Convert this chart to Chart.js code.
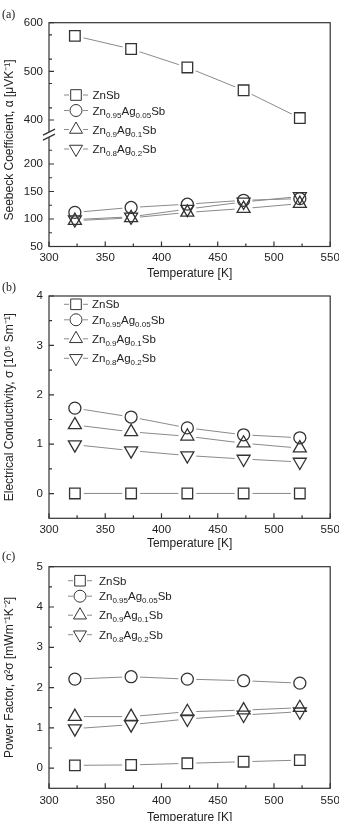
<!DOCTYPE html>
<html>
<head>
<meta charset="utf-8">
<script src="https://cdn.jsdelivr.net/npm/chart.js@4.4.1/dist/chart.umd.min.js"></script>
<style>
  html, body { margin: 0; padding: 0; background: #fff; }
  body { width: 339px; height: 821px; overflow: hidden; position: relative; }
  canvas { position: absolute; left: 0; }
  .tag { position: absolute; left: 2px; font: 12px 'Liberation Serif', 'Times New Roman', serif; color: #222; z-index: 2; }
</style>
</head>
<body>
<canvas id="chartA" width="339" height="281" style="top:0px"></canvas>
<canvas id="chartB" width="339" height="270" style="top:281px"></canvas>
<canvas id="chartC" width="339" height="290" style="top:551px"></canvas>
<div class="tag" style="top:7px">(a)</div>
<div class="tag" style="top:280px">(b)</div>
<div class="tag" style="top:549px">(c)</div>
<script>
// temperatures [K]
var temps = [323, 373, 423, 473, 523];
var seriesNames = ['ZnSb', 'Zn_{0.95}Ag_{0.05}Sb', 'Zn_{0.9}Ag_{0.1}Sb', 'Zn_{0.8}Ag_{0.2}Sb'];
var markers = ['rect', 'circle', 'triangle', 'triangle'];
var markerTurn = [0, 0, 0, 180];
var markerSize = [7.5, 6, 7.5, 7.5];

// (a) seebeck coefficient [uV/K]
var seebeckZnSb = [573, 546, 508, 461, 404];
var seebeckAg005 = [112, 121, 127, 134, 137];
var seebeckAg01 = [97, 102, 112, 119, 128];
var seebeckAg02 = [99, 104, 118, 131, 141];

// (b) electrical conductivity [10^5 S/m]
var condZnSb = [0.003, 0.003, 0.003, 0.003, 0.003];
var condAg005 = [1.73, 1.55, 1.33, 1.19, 1.13];
var condAg01 = [1.39, 1.25, 1.16, 1.02, 0.92];
var condAg02 = [0.99, 0.87, 0.77, 0.70, 0.64];

// (c) power factor [mW/mK^2]
var pfZnSb = [0.07, 0.08, 0.12, 0.16, 0.20];
var pfAg005 = [2.21, 2.27, 2.21, 2.17, 2.11];
var pfAg01 = [1.28, 1.28, 1.40, 1.44, 1.50];
var pfAg02 = [0.98, 1.08, 1.22, 1.32, 1.40];

// tick values
var tempTicks = [300, 350, 400, 450, 500, 550];
var tempMinor = [325, 375, 425, 475, 525];
var seebeckLowTicks = [50, 100, 150, 200];
var seebeckLowMinor = [75, 125, 175, 225];
var seebeckHighTicks = [400, 450, 500, 550, 600];
var seebeckHighMinor = [425, 475, 525, 575];
var condTicks = [0, 1, 2, 3, 4];
var condMinor = [0.5, 1.5, 2.5, 3.5];
var pfTicks = [0, 1, 2, 3, 4, 5];
var pfMinor = [0.5, 1.5, 2.5, 3.5, 4.5];

var family = "'Liberation Sans', Arial, Helvetica, sans-serif";
var textColor = '#222';
var axisColor = '#333';
var linkColor = '#8a8a8a';
var legendRows = [0, 15.5, 34.5, 54];

function setTicks(list) {
  return function(scale) {
    scale.ticks = list.map(function(v) { return {value: v}; });
  };
}

function buildDatasets(seriesList, axisIds) {
  var out = [];
  seriesList.forEach(function(vals, i) {
    var pts = temps.map(function(t, j) { return {x: t, y: vals[j]}; });
    out.push({
      label: seriesNames[i], data: pts, yAxisID: axisIds[i],
      borderColor: linkColor, borderWidth: 1, pointRadius: 0, pointHoverRadius: 0,
      fill: false, tension: 0, linkOf: i
    });
    out.push({
      label: seriesNames[i], data: pts, yAxisID: axisIds[i], showLine: false,
      pointStyle: markers[i], pointRotation: markerTurn[i], pointRadius: markerSize[i],
      pointBorderColor: axisColor, pointBackgroundColor: 'rgba(0,0,0,0)', pointBorderWidth: 1.3,
      markerOf: i
    });
  });
  return out;
}

function drawRich(ctx, label, x, y) {
  var parts = label.split(/(_\{[^}]*\})/);
  parts.forEach(function(part) {
    if (!part) return;
    var sub = part.charAt(0) === '_';
    var txt = sub ? part.slice(2, -1) : part;
    ctx.font = (sub ? '8px ' : '11.5px ') + family;
    ctx.fillText(txt, x, sub ? y + 3 : y);
    x += ctx.measureText(txt).width;
  });
}

function decoPlugin(p) {
  return {
    id: 'deco',
    beforeDatasetDraw: function(chart, args) {
      var ds = chart.data.datasets[args.index];
      if (typeof ds.linkOf !== 'number') return;
      var ctx = chart.ctx;
      ctx.save();
      chart.getDatasetMeta(args.index + 1).data.forEach(function(pt) {
        ctx.beginPath();
        ctx.rect(0, 0, chart.width, chart.height);
        ctx.arc(pt.x, pt.y, 9, 0, Math.PI * 2);
        ctx.clip('evenodd');
      });
    },
    afterDatasetDraw: function(chart, args) {
      var ds = chart.data.datasets[args.index];
      if (typeof ds.linkOf === 'number') chart.ctx.restore();
    },
    afterDraw: function(chart) {
      var ctx = chart.ctx, a = chart.chartArea;
      ctx.save();
      ctx.strokeStyle = axisColor;
      ctx.lineWidth = 1.2;
      ctx.strokeRect(a.left, a.top, a.right - a.left, a.bottom - a.top);

      // inward ticks
      ctx.beginPath();
      Object.keys(p.minor).forEach(function(id) {
        var s = chart.scales[id];
        s.ticks.forEach(function(t) {
          var v = s.getPixelForValue(t.value);
          if (s.isHorizontal()) { ctx.moveTo(v, a.bottom); ctx.lineTo(v, a.bottom - 5); }
          else { ctx.moveTo(a.left, v); ctx.lineTo(a.left + 5, v); }
        });
        p.minor[id].forEach(function(m) {
          var v = s.getPixelForValue(m);
          if (s.isHorizontal()) { ctx.moveTo(v, a.bottom); ctx.lineTo(v, a.bottom - 3); }
          else { ctx.moveTo(a.left, v); ctx.lineTo(a.left + 3, v); }
        });
      });
      ctx.stroke();

      // axis break
      if (p.breakAxis) {
        var by = chart.scales[p.breakAxis].top;
        ctx.fillStyle = '#fff';
        ctx.fillRect(a.left - 2, by - 2.5, 4, 5);
        ctx.beginPath();
        [-2.5, 2.5].forEach(function(d) {
          ctx.moveTo(a.left - 6, by + d + 3);
          ctx.lineTo(a.left + 6, by + d - 3);
        });
        ctx.stroke();
      }

      // y title drawn by hand for the broken axis
      if (p.yTitle) {
        ctx.save();
        ctx.translate(p.yTitle.x, p.yTitle.y);
        ctx.rotate(-Math.PI / 2);
        ctx.fillStyle = textColor;
        ctx.font = '12px ' + family;
        ctx.textAlign = 'center';
        ctx.textBaseline = 'middle';
        ctx.fillText(p.yTitle.text, 0, 0);
        ctx.restore();
      }

      // legend
      var lg = p.legend;
      seriesNames.forEach(function(name, i) {
        var ry = lg.y + legendRows[i];
        ctx.strokeStyle = linkColor;
        ctx.lineWidth = 1;
        ctx.beginPath();
        ctx.moveTo(lg.x - 12, ry); ctx.lineTo(lg.x - 7, ry);
        ctx.moveTo(lg.x + 7, ry); ctx.lineTo(lg.x + 12, ry);
        ctx.stroke();
        ctx.strokeStyle = axisColor;
        ctx.fillStyle = 'rgba(0,0,0,0)';
        Chart.helpers.drawPoint(ctx, {
          pointStyle: markers[i], rotation: markerTurn[i], radius: markerSize[i], borderWidth: 1.3
        }, lg.x, ry);
        ctx.fillStyle = textColor;
        ctx.textAlign = 'left';
        ctx.textBaseline = 'alphabetic';
        drawRich(ctx, name, lg.textX, ry + 4);
      });
      ctx.restore();
    }
  };
}

function xScale(p) {
  return {
    type: 'linear', position: 'bottom', min: 300, max: 550,
    afterBuildTicks: setTicks(tempTicks),
    afterFit: function(s) { s.height = p.xHeight; s.paddingLeft = 0; s.paddingRight = 0; },
    grid: {display: false, drawTicks: false}, border: {display: false},
    ticks: {padding: p.labelPad, color: textColor, font: {family: family, size: 11.5}, maxRotation: 0},
    title: {display: true, text: 'Temperature [K]', color: textColor,
            font: {family: family, size: 12}, padding: {top: 0, bottom: p.titlePad}}
  };
}

function yScale(extra) {
  var s = {
    type: 'linear', position: 'left',
    afterFit: function(sc) { sc.width = 49; },
    grid: {display: false, drawTicks: false}, border: {display: false},
    ticks: {padding: 6, color: textColor, font: {family: family, size: 11.5}}
  };
  Object.keys(extra).forEach(function(k) { s[k] = extra[k]; });
  return s;
}

function makeChart(id, datasets, scales, p) {
  return new Chart(document.getElementById(id), {
    type: 'line',
    data: {datasets: datasets},
    options: {
      responsive: false, animation: false, events: [],
      layout: {padding: {top: p.top, right: 8, left: 0, bottom: 0}},
      plugins: {legend: {display: false}, tooltip: {enabled: false}},
      scales: scales
    },
    plugins: [decoPlugin(p)]
  });
}

// (a)
var pa = {top: 22.7, xHeight: 34.5, labelPad: 4, titlePad: 0,
  minor: {x: tempMinor, y: seebeckLowMinor, yTop: seebeckHighMinor},
  breakAxis: 'y',
  yTitle: {x: 9.5, y: 140, text: 'Seebeck Coefficient, \u03b1 [\u03bcVK\u207b\u00b9]'},
  legend: {x: 76, y: 95, textX: 92.5}};
makeChart('chartA',
  buildDatasets([seebeckZnSb, seebeckAg005, seebeckAg01, seebeckAg02], ['yTop', 'y', 'y', 'y']),
  {
    x: xScale(pa),
    y: yScale({stack: 'seebeck', stackWeight: 1, min: 50, max: 253.5, afterBuildTicks: setTicks(seebeckLowTicks)}),
    yTop: yScale({stack: 'seebeck', stackWeight: 1, min: 370, max: 600, afterBuildTicks: setTicks(seebeckHighTicks)})
  }, pa);

// (b)
var pb = {top: 15, xHeight: 32.7, labelPad: 5, titlePad: 0,
  minor: {x: tempMinor, y: condMinor},
  legend: {x: 76, y: 23.3, textX: 92}};
makeChart('chartB',
  buildDatasets([condZnSb, condAg005, condAg01, condAg02], ['y', 'y', 'y', 'y']),
  {
    x: xScale(pb),
    y: yScale({min: -0.5, max: 4, afterBuildTicks: setTicks(condTicks),
      title: {display: true, text: 'Electrical Conductivity, \u03c3 [10\u2075 Sm\u207b\u00b9]', color: textColor,
              font: {family: family, size: 12}, padding: {top: 2, bottom: 0}}})
  }, pb);

// (c)
var pc = {top: 15.7, xHeight: 52.7, labelPad: 6, titlePad: 16.5,
  minor: {x: tempMinor, y: pfMinor},
  legend: {x: 80, y: 29.7, textX: 99}};
makeChart('chartC',
  buildDatasets([pfZnSb, pfAg005, pfAg01, pfAg02], ['y', 'y', 'y', 'y']),
  {
    x: xScale(pc),
    y: yScale({min: -0.5, max: 5, afterBuildTicks: setTicks(pfTicks),
      title: {display: true, text: 'Power Factor, \u03b1\u00b2\u03c3 [mWm\u207b\u00b9K\u207b\u00b2]', color: textColor,
              font: {family: family, size: 12}, padding: {top: 2, bottom: 0}}})
  }, pc);
</script>
</body>
</html>
